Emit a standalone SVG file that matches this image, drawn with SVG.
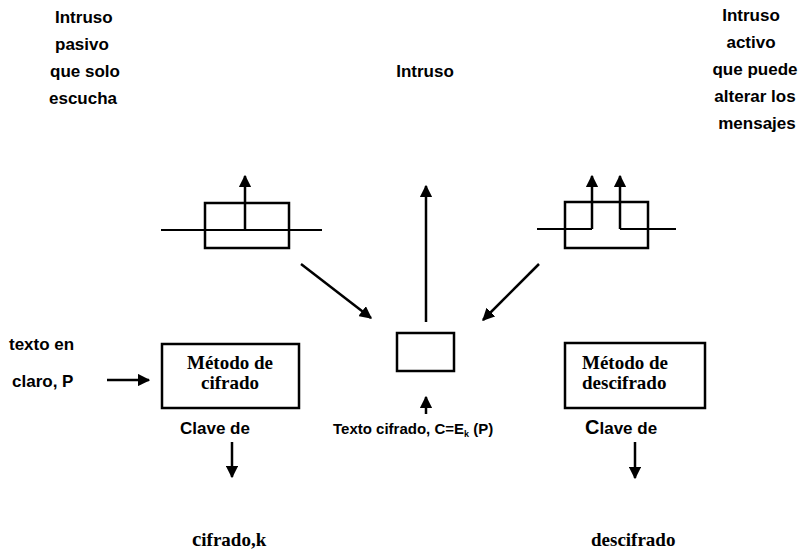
<svg xmlns="http://www.w3.org/2000/svg" width="803" height="553" viewBox="0 0 803 553">
  <defs>
    <marker id="ah" viewBox="0 0 10 10" refX="9" refY="5" markerWidth="5" markerHeight="5" markerUnits="strokeWidth" orient="auto">
      <path d="M0,0 L10,5 L0,10 z" fill="#000"/>
    </marker>
  </defs>
  <style>
    .sans { font-family: "Liberation Sans", Arial, sans-serif; font-weight: bold; font-size: 17px; fill: #000; }
    .serif { font-family: "Liberation Serif", "Times New Roman", serif; font-weight: bold; font-size: 19px; fill: #000; }
    .box { fill: none; stroke: #000; stroke-width: 2.5; }
    .ln { fill: none; stroke: #000; stroke-width: 2; }
    .arr { fill: none; stroke: #000; stroke-width: 2.5; marker-end: url(#ah); }
  </style>
  <rect width="803" height="553" fill="#fff"/>

  <!-- Passive intruder label -->
  <g id="passive-label" class="sans">
    <text x="55" y="23">Intruso</text>
    <text x="55" y="50">pasivo</text>
    <text x="50" y="77">que solo</text>
    <text x="49" y="104">escucha</text>
  </g>

  <!-- Central intruder label -->
  <g id="intruder-label" class="sans">
    <text x="425" y="77" text-anchor="middle">Intruso</text>
  </g>

  <!-- Active intruder label -->
  <g id="active-label" class="sans" text-anchor="middle">
    <text x="751" y="21">Intruso</text>
    <text x="751" y="48">activo</text>
    <text x="755" y="75">que puede</text>
    <text x="755" y="102">alterar los</text>
    <text x="757" y="129">mensajes</text>
  </g>

  <!-- Passive tap: box on the line, one lead upward -->
  <g id="passive-tap">
    <rect class="box" x="205" y="203" width="84" height="45"/>
    <line class="ln" x1="161" y1="230" x2="322" y2="230"/>
  </g>

  <!-- Active tap: line broken through the box, two leads upward -->
  <g id="active-tap">
    <rect class="box" x="565" y="202" width="83" height="46"/>
    <path class="ln" d="M537,229 H592"/>
    <path class="ln" d="M620,229 H676"/>
  </g>

  <!-- Channel box -->
  <g id="channel">
    <rect class="box" x="397" y="333" width="57" height="38"/>
  </g>

  <!-- Encryption method -->
  <g id="encrypt">
    <rect class="box" x="162" y="344" width="137" height="64"/>
    <text class="serif" x="230" y="369" text-anchor="middle">Método de</text>
    <text class="serif" x="230" y="389" text-anchor="middle">cifrado</text>
  </g>

  <!-- Decryption method -->
  <g id="decrypt">
    <rect class="box" x="565" y="343" width="140" height="65"/>
    <text class="serif" x="582" y="369">Método de</text>
    <text class="serif" x="582" y="389">descifrado</text>
  </g>

  <!-- Plaintext input -->
  <g id="plaintext" class="sans">
    <text x="9" y="350">texto en</text>
    <text x="12" y="387">claro, P</text>
  </g>

  <!-- Ciphertext label -->
  <g id="ciphertext" class="sans" style="font-size:15px">
    <text x="333" y="434">Texto cifrado, C=E<tspan font-size="9" dy="3">k</tspan><tspan dy="-3"> (P)</tspan></text>
  </g>

  <!-- Encryption key -->
  <g id="enc-key">
    <text class="sans" x="180" y="434">Clave de</text>
    <text class="serif" x="192" y="546"><tspan font-size="21">c</tspan>ifrado,k</text>
  </g>

  <!-- Decryption key -->
  <g id="dec-key">
    <text class="sans" x="585" y="434"><tspan font-size="20">C</tspan>lave de</text>
    <text class="serif" x="591" y="546">descifrado</text>
  </g>

  <!-- Connectors -->
  <g id="connectors">
    <line class="arr" x1="245" y1="230" x2="245" y2="176"/>
    <line class="arr" x1="592" y1="229" x2="592" y2="176"/>
    <line class="arr" x1="620" y1="229" x2="620" y2="176"/>
    <line class="arr" x1="426" y1="322" x2="426" y2="186"/>
    <line class="arr" x1="301" y1="264" x2="371" y2="318"/>
    <line class="arr" x1="539" y1="264" x2="483" y2="320"/>
    <line class="arr" x1="107" y1="380" x2="149" y2="380"/>
    <line class="arr" x1="426" y1="414" x2="426" y2="397"/>
    <line class="arr" x1="232" y1="442" x2="232" y2="477"/>
    <line class="arr" x1="635" y1="442" x2="635" y2="478"/>
  </g>
</svg>
